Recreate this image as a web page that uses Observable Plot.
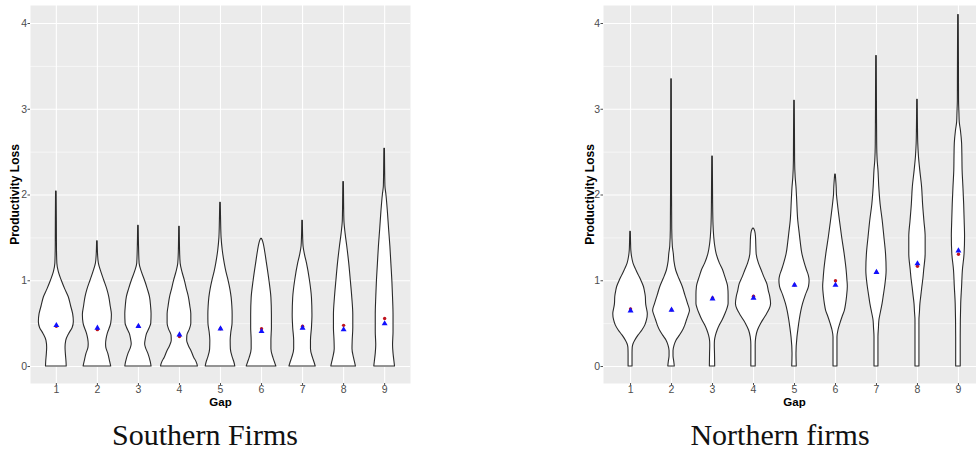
<!DOCTYPE html>
<html><head><meta charset="utf-8">
<script src="https://cdn.jsdelivr.net/npm/d3@7"></script>
<script src="https://cdn.jsdelivr.net/npm/@observablehq/plot@0.6"></script>
<style>
body{margin:0;background:#fff;}
#wrap{position:relative;width:976px;height:457px;overflow:hidden;background:#fff;}
.panel{position:absolute;top:0;}
.panel svg{max-width:none !important;}
.cap{position:absolute;font-family:"Liberation Serif","Times New Roman",serif;font-size:30px;line-height:30px;color:#111;white-space:nowrap;transform:translateX(-50%);}
</style></head>
<body><div id="wrap">
<div id="south" class="panel" style="left:0px;width:420px"></div>
<div id="north" class="panel" style="left:560px;width:430px"></div>
<div class="cap" style="left:205px;top:420px">Southern Firms</div>
<div class="cap" style="left:780px;top:420px">Northern firms</div>
</div>
<script>
// ---- data ----
const gaps = [1, 2, 3, 4, 5, 6, 7, 8, 9];
const gapLabels = ["1", "2", "3", "4", "5", "6", "7", "8", "9"];
const yTicks = [0, 1, 2, 3, 4];
const yTickLabels = ["0", "1", "2", "3", "4"];
const yMinor = [0.5, 1.5, 2.5, 3.5];
const yTitle = "Productivity Loss";
const xTitle = "Gap";

// violin density profiles: [value, relative density]
const southViolins = [
  [[0,10.5],[0.05,10.3],[0.15,9.6],[0.22,9.3],[0.3,10],[0.38,13],[0.45,16.5],[0.52,17.7],[0.61,17],[0.7,15],[0.81,12.5],[0.9,9],[1.0,5.5],[1.1,2.5],[1.2,1.0],[1.4,0.6],[1.7,0.5],[2.04,0.3]],
  [[0,14],[0.05,13],[0.15,11],[0.22,9],[0.26,8.8],[0.32,9.3],[0.38,10.5],[0.5,14],[0.6,14.7],[0.7,13.5],[0.81,12],[0.9,10],[1.0,7],[1.1,4],[1.2,1.5],[1.3,0.7],[1.46,0.3]],
  [[0,13.3],[0.05,12.5],[0.15,10],[0.22,7.5],[0.26,6.8],[0.32,7.5],[0.38,8.7],[0.45,11.5],[0.5,13],[0.61,13.3],[0.7,12.8],[0.81,11.7],[0.9,9.5],[1.0,6.7],[1.1,3.5],[1.2,1.2],[1.4,0.6],[1.64,0.3]],
  [[0,18.7],[0.03,18],[0.06,17],[0.1,15],[0.17,12.5],[0.24,9.5],[0.3,7.8],[0.36,8],[0.43,10.5],[0.5,12],[0.61,12],[0.7,11],[0.81,9.5],[0.9,7.5],[1.0,5.5],[1.1,3],[1.2,1.2],[1.35,0.6],[1.63,0.3]],
  [[0,15],[0.05,14],[0.1,12.5],[0.2,10.5],[0.3,10.3],[0.4,11],[0.5,12.2],[0.6,12.3],[0.7,12],[0.8,11.3],[0.9,10],[1.0,8.2],[1.1,6],[1.2,4.3],[1.35,2.3],[1.5,1.1],[1.7,0.6],[1.91,0.3]],
  [[0,15],[0.05,13.5],[0.1,12],[0.2,10],[0.3,10],[0.45,10.5],[0.6,10.5],[0.8,10],[1.0,8],[1.2,5.5],[1.35,3.5],[1.43,2.2],[1.47,1.2],[1.49,0.3]],
  [[0,13.3],[0.05,12],[0.1,10.5],[0.2,8.5],[0.3,8.5],[0.45,9.5],[0.6,10],[0.8,9.5],[1.0,7.5],[1.2,4.5],[1.3,2.5],[1.4,1],[1.5,0.6],[1.7,0.3]],
  [[0,12.5],[0.05,11.5],[0.1,10.5],[0.2,9],[0.3,9.2],[0.45,9.8],[0.6,9.8],[0.8,8.8],[1.0,7.3],[1.2,5.7],[1.4,3.7],[1.55,2],[1.7,0.8],[1.9,0.5],[2.15,0.3]],
  [[0,10.5],[0.05,10],[0.15,9],[0.25,8.5],[0.4,9],[0.6,9],[0.8,8.5],[1.0,7.8],[1.2,6.8],[1.4,5.8],[1.6,4.5],[1.8,3.3],[2.0,1.8],[2.1,0.8],[2.3,0.5],[2.54,0.3]]
];
const northViolins = [
  [[0,2],[0.15,2],[0.22,2.2],[0.26,3],[0.3,4.7],[0.36,8],[0.42,12],[0.48,15],[0.54,16.7],[0.61,17.5],[0.68,16.5],[0.73,15.8],[0.81,15.5],[0.88,14.5],[0.93,13.5],[1.0,11],[1.06,8.5],[1.12,6],[1.2,3],[1.28,1.5],[1.35,0.8],[1.45,0.5],[1.57,0.3]],
  [[0,3.3],[0.06,2.7],[0.12,2],[0.18,2],[0.24,3],[0.3,5],[0.36,8.5],[0.42,11.7],[0.48,14],[0.54,15.7],[0.6,17.5],[0.65,18.7],[0.73,16.7],[0.83,14],[0.93,11.3],[1.02,8],[1.12,4.7],[1.22,3],[1.31,2.3],[1.4,1.3],[1.6,0.7],[2.0,0.5],[3.35,0.3]],
  [[0,2.7],[0.15,2.5],[0.25,2.3],[0.3,2.5],[0.36,3.5],[0.42,5.2],[0.48,7.5],[0.54,10.3],[0.61,13],[0.67,15],[0.73,16.3],[0.83,16.3],[0.93,15.8],[1.0,14.2],[1.06,12.5],[1.12,10.8],[1.2,7.5],[1.31,4.2],[1.42,2.5],[1.51,1.7],[1.65,1],[1.9,0.6],[2.45,0.3]],
  [[0,2.2],[0.25,2.2],[0.34,2.8],[0.42,4.5],[0.5,7.8],[0.56,11],[0.61,13.7],[0.67,16.5],[0.73,17.8],[0.81,17],[0.88,15.5],[0.96,14],[1.04,11],[1.12,8.3],[1.2,5.5],[1.31,3.2],[1.42,2.8],[1.51,2.5],[1.57,1.8],[1.6,0.8],[1.61,0.3]],
  [[0,2.3],[0.15,2],[0.34,3],[0.45,4.2],[0.54,5.3],[0.65,7],[0.73,8.7],[0.83,11.5],[0.93,14.7],[1.0,15.3],[1.06,14.5],[1.12,12.7],[1.2,10.5],[1.31,8],[1.45,6.3],[1.55,5.3],[1.7,3.8],[1.94,2.7],[2.09,2],[2.2,1.2],[2.4,0.6],[3.1,0.3]],
  [[0,2],[0.34,2],[0.42,3],[0.5,5],[0.58,7.3],[0.65,9.5],[0.73,10.8],[0.81,11.7],[0.93,12.5],[1.02,12],[1.12,11.3],[1.31,9.3],[1.51,6.7],[1.7,4.5],[1.89,2.5],[2.0,1.5],[2.09,1.2],[2.24,0.3]],
  [[0,2],[0.34,2],[0.45,2.5],[0.54,3],[0.63,4.5],[0.73,6.2],[0.83,7.5],[0.93,8.8],[1.12,10.3],[1.31,9.7],[1.51,8],[1.7,6.3],[1.89,4.2],[2.1,2.8],[2.29,2],[2.4,1.2],[2.6,0.7],[3.0,0.5],[3.62,0.3]],
  [[0,2],[0.54,2],[0.63,2.5],[0.73,3],[0.83,4],[0.93,5],[1.02,6],[1.12,6.8],[1.31,8.3],[1.51,8.3],[1.7,7],[1.89,5.7],[2.09,4.7],[2.29,2.8],[2.45,1.5],[2.6,0.8],[2.8,0.5],[3.11,0.3]],
  [[0,2.3],[0.34,2.3],[0.73,2.8],[0.93,3.7],[1.12,4.5],[1.31,6.2],[1.51,6.7],[1.7,6.3],[1.89,5.8],[2.1,5],[2.29,4.2],[2.45,4],[2.6,3.7],[2.75,2.5],[2.85,1.3],[2.95,1.0],[3.1,0.6],[3.5,0.5],[4.1,0.3]]
];

// summary points per gap
const southRed  = [0.47, 0.43, 0.47, 0.35, 0.44, 0.44, 0.47, 0.48, 0.56];
const southBlue = [0.48, 0.45, 0.47, 0.37, 0.44, 0.41, 0.45, 0.43, 0.50];
const northRed  = [0.67, 0.66, 0.80, 0.82, 0.95, 1.00, 1.10, 1.17, 1.31];
const northBlue = [0.65, 0.66, 0.79, 0.80, 0.95, 0.95, 1.10, 1.20, 1.35];

// ---- drawing ----
const FONT = "'Liberation Sans', Arial, sans-serif";
function drawPanel(violins, red, blue, o) {
  const maxD = d3.max(violins.flat(), p => p[1]);
  const k = 0.45 / maxD;
  const rows = violins.flatMap((prof, i) => prof.map(([v, d]) => ({gap: gaps[i], v, h: d * k})));
  const redRows = gaps.map((g, i) => ({gap: g, v: red[i]}));
  const blueRows = gaps.map((g, i) => ({gap: g, v: blue[i]}));
  return Plot.plot({
    width: o.width, height: 410,
    marginLeft: o.marginLeft, marginRight: o.marginRight, marginTop: 5, marginBottom: 27,
    style: {fontFamily: FONT, background: "transparent"},
    x: {type: "linear", domain: o.xDomain},
    y: {domain: [-0.198, 4.21]},
    marks: [
      Plot.frame({fill: "#EBEBEB", stroke: "none"}),
      Plot.ruleY(yMinor, {stroke: "white", strokeWidth: 0.55}),
      Plot.ruleY(yTicks, {stroke: "white", strokeWidth: 1.1}),
      Plot.ruleX(gaps, {stroke: "white", strokeWidth: 1.1}),
      Plot.areaX(rows, {y: "v", x1: r => r.gap - r.h, x2: r => r.gap + r.h, z: "gap",
        fill: "white", stroke: "#2a2a2a", strokeWidth: 1.1, curve: "monotone-y"}),
      Plot.dot(redRows, {x: "gap", y: "v", r: 1.7, fill: "#C0141E", stroke: "none"}),
      Plot.dot(blueRows, {x: "gap", y: "v", r: 2.2, symbol: "triangle", fill: "#1010FF", stroke: "none"}),
      Plot.axisY(yTicks, {tickSize: 2.5, tickPadding: 1, fontSize: 10.5, color: "#4D4D4D", label: null,
        fontFamily: FONT, tickFormat: d => yTickLabels[yTicks.indexOf(d)]}),
      Plot.axisX(gaps, {tickSize: 2, tickPadding: 0, fontSize: 10.5, color: "#4D4D4D", label: null,
        fontFamily: FONT, tickFormat: d => gapLabels[gaps.indexOf(d)]}),
      Plot.text([yTitle], {text: d => d, frameAnchor: "left", textAnchor: "middle", lineAnchor: "middle",
        rotate: -90, dx: o.yTitleDx, fontSize: 12, fontWeight: "bold", fill: "black", fontFamily: FONT}),
      Plot.text([xTitle], {text: d => d, frameAnchor: "bottom", textAnchor: "middle", lineAnchor: "middle",
        dy: 18.5, fontSize: 11.5, fontWeight: "bold", fill: "black", fontFamily: FONT})
    ]
  });
}

document.getElementById("south").appendChild(
  drawPanel(southViolins, southRed, southBlue,
    {width: 420, marginLeft: 30, marginRight: 10, xDomain: [0.37, 9.63], yTitleDx: -15}));
document.getElementById("north").appendChild(
  drawPanel(northViolins, northRed, northBlue,
    {width: 430, marginLeft: 43, marginRight: 5, xDomain: [0.34, 9.66], yTitleDx: -13}));
</script>
</body></html>
